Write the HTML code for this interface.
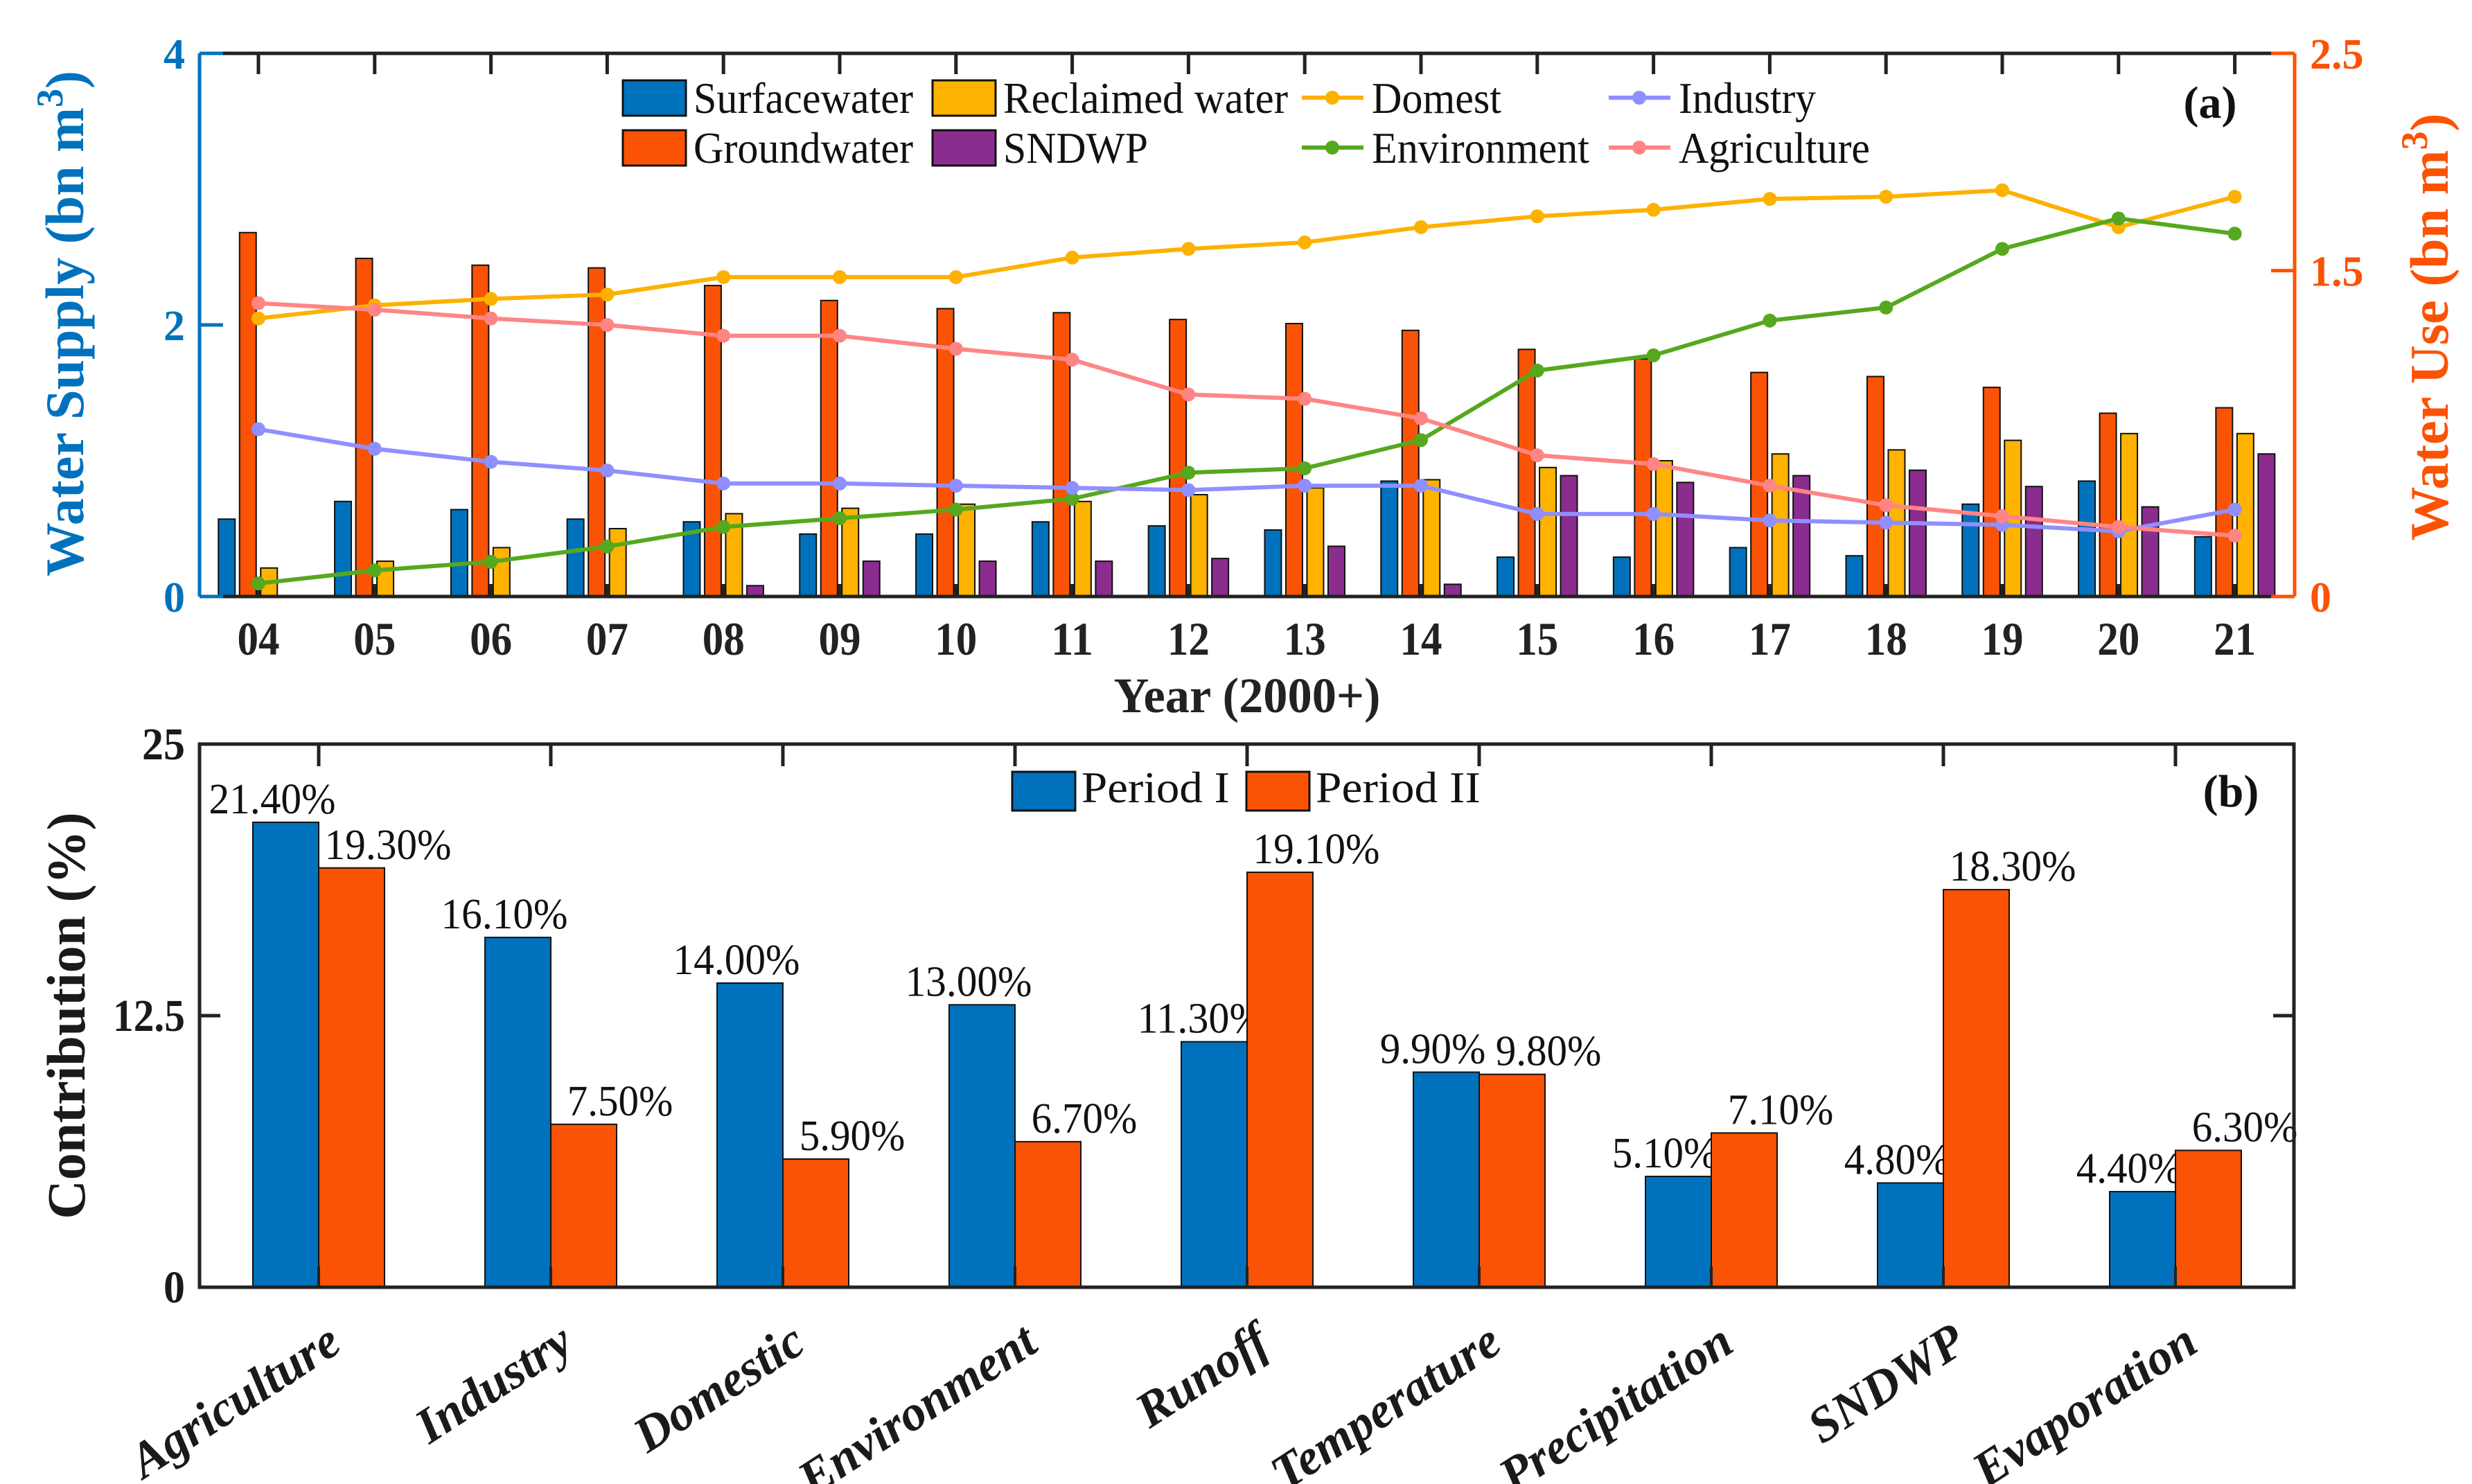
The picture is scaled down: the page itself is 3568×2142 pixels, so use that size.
<!DOCTYPE html>
<html><head><meta charset="utf-8">
<style>
html,body{margin:0;padding:0;background:#fff;}
svg{display:block;}
svg text{font-family:"Liberation Serif","DejaVu Serif","Times New Roman",serif !important;}
</style></head>
<body>
<svg id="chart" width="3568" height="2142" viewBox="0 0 3568 2142" xmlns="http://www.w3.org/2000/svg" font-family="'Liberation Serif', 'DejaVu Serif', serif">
<g id="pa"></g>
<g id="pb"></g>
</svg>
<script>
// ---- Panel (a) data ----
const years = ["04","05","06","07","08","09","10","11","12","13","14","15","16","17","18","19","20","21"];
const surfaceWater = [0.57,0.70,0.64,0.57,0.55,0.46,0.46,0.55,0.52,0.49,0.85,0.29,0.29,0.36,0.30,0.68,0.85,0.44];
const groundWater = [2.68,2.49,2.44,2.42,2.29,2.18,2.12,2.09,2.04,2.01,1.96,1.82,1.75,1.65,1.62,1.54,1.35,1.39];
const reclaimedWater = [0.21,0.26,0.36,0.50,0.61,0.65,0.68,0.70,0.75,0.80,0.86,0.95,1.00,1.05,1.08,1.15,1.20,1.20];
const sndwpSupply = [0,0,0,0,0.08,0.26,0.26,0.26,0.28,0.37,0.09,0.89,0.84,0.89,0.93,0.81,0.66,1.05];
const domestUse = [1.28,1.34,1.37,1.39,1.47,1.47,1.47,1.56,1.60,1.63,1.70,1.75,1.78,1.83,1.84,1.87,1.70,1.84];
const environmentUse = [0.06,0.12,0.16,0.23,0.32,0.36,0.40,0.45,0.57,0.59,0.72,1.04,1.11,1.27,1.33,1.60,1.74,1.67];
const industryUse = [0.77,0.68,0.62,0.58,0.52,0.52,0.51,0.50,0.49,0.51,0.51,0.38,0.38,0.35,0.34,0.33,0.30,0.40];
const agricultureUse = [1.35,1.32,1.28,1.25,1.20,1.20,1.14,1.09,0.93,0.91,0.82,0.65,0.61,0.51,0.42,0.37,0.32,0.28];
const leftTicks = [0,2,4];
const rightTicks = [0,1.5,2.5];
// ---- Panel (b) data ----
const factors = ["Agriculture","Industry","Domestic","Environment","Runoff","Temperature","Precipitation","SNDWP","Evaporation"];
const period1 = [21.4,16.1,14.0,13.0,11.3,9.9,5.1,4.8,4.4];
const period2 = [19.3,7.5,5.9,6.7,19.1,9.8,7.1,18.3,6.3];
const contribTicks = [0,12.5,25];
const contribTickLabels = ["0","12.5","25"];

const NS="http://www.w3.org/2000/svg";
const FF="'Liberation Serif', 'DejaVu Serif', serif";
function mk(parent,tag,attrs){const e=document.createElementNS(NS,tag);if(tag==='text')e.setAttribute('font-family',FF);for(const k in attrs)e.setAttribute(k,attrs[k]);parent.appendChild(e);return e;}

const C={blue:"#0072BD",orange:"#FA5305",yellow:"#FDB300",purple:"#8B2C8F",dom:"#FDB100",env:"#56A81E",ind:"#8F8FFF",agr:"#FF8585",axO:"#FC5204",dark:"#222"};

// ===== Panel A =====
const pa=document.getElementById('pa');
const A={x0:288,x1:3312,top:77,bot:861};
const xa=i=>373+i*167.8;
const yl=v=>A.bot-v*(A.bot-A.top)/4;
const yr=v=>A.bot-v*(A.bot-A.top)/2.5;
const barSeries=[[surfaceWater,C.blue,'surfacewater'],[groundWater,C.orange,'groundwater'],[reclaimedWater,C.yellow,'reclaimed-water'],[sndwpSupply,C.purple,'sndwp']];
barSeries.forEach((s,si)=>{
  s[0].forEach((v,i)=>{
    if(v<=0)return;
    const cx=xa(i)+(si-1.5)*30.5;
    const r=mk(pa,'rect',{x:cx-12,y:yl(v),width:24,height:A.bot-yl(v),fill:s[1],stroke:'#111','stroke-width':2});
    
    
  });
});
let e;
e=mk(pa,'line',{x1:321,y1:A.top,x2:3280,y2:A.top,stroke:C.dark,'stroke-width':5});

e=mk(pa,'line',{x1:321,y1:A.bot,x2:3280,y2:A.bot,stroke:C.dark,'stroke-width':5});

years.forEach((y,i)=>{
  const t=mk(pa,'line',{x1:xa(i),y1:A.top,x2:xa(i),y2:A.top+30,stroke:C.dark,'stroke-width':5});
  
  const b=mk(pa,'line',{x1:xa(i),y1:A.bot,x2:xa(i),y2:A.bot-18,stroke:C.dark,'stroke-width':5});
  
  const l=mk(pa,'text',{x:xa(i),y:945,'text-anchor':'middle','font-size':68,'font-weight':'bold',fill:C.dark,textLength:61,lengthAdjust:'spacingAndGlyphs'});
  l.textContent=y;
  
});
e=mk(pa,'line',{x1:A.x0,y1:A.top,x2:A.x0,y2:A.bot,stroke:C.blue,'stroke-width':5});

leftTicks.forEach(v=>{
  const t=mk(pa,'line',{x1:A.x0,y1:yl(v),x2:A.x0+34,y2:yl(v),stroke:C.blue,'stroke-width':5});
  
  const l=mk(pa,'text',{x:267,y:yl(v)+22,'text-anchor':'end','font-size':62,'font-weight':'bold',fill:C.blue});
  l.textContent=String(v);
  
});
e=mk(pa,'line',{x1:A.x1,y1:A.top,x2:A.x1,y2:A.bot,stroke:C.axO,'stroke-width':5});

rightTicks.forEach(v=>{
  const t=mk(pa,'line',{x1:A.x1,y1:yr(v),x2:A.x1-34,y2:yr(v),stroke:C.axO,'stroke-width':5});
  
  const l=mk(pa,'text',{x:3334,y:yr(v)+22,'text-anchor':'start','font-size':62,'font-weight':'bold',fill:C.axO});
  l.textContent=String(v);
  
});
const lineSeries=[[domestUse,C.dom,'domest'],[environmentUse,C.env,'environment'],[industryUse,C.ind,'industry'],[agricultureUse,C.agr,'agriculture']];
lineSeries.forEach(s=>{
  const pts=s[0].map((v,i)=>xa(i)+','+yr(v)).join(' ');
  const pl=mk(pa,'polyline',{points:pts,fill:'none',stroke:s[1],'stroke-width':6,'stroke-linejoin':'round'});
  
  
  s[0].forEach((v,i)=>{
    const c=mk(pa,'circle',{cx:xa(i),cy:yr(v),r:10,fill:s[1]});
    
    
  });
});
const legA=mk(pa,'g',{});

const boxEntries=[[899,116,C.blue,'Surfacewater',317],[899,188,C.orange,'Groundwater',317],[1346,116,C.yellow,'Reclaimed water',411],[1346,188,C.purple,'SNDWP',209]];
boxEntries.forEach(b=>{
  const g=mk(legA,'g',{});
  
  mk(g,'rect',{x:b[0],y:b[1],width:91,height:51,fill:b[2],stroke:'#111','stroke-width':3});
  const t=mk(g,'text',{x:b[0]+102,y:b[1]+47,'font-size':64,fill:'#111',textLength:b[4],lengthAdjust:'spacingAndGlyphs'});
  t.textContent=b[3];
});
const lineEntries=[[1879,141,C.dom,'Domest',187],[1879,213,C.env,'Environment',314],[2322,141,C.ind,'Industry',198],[2322,213,C.agr,'Agriculture',276]];
lineEntries.forEach(b=>{
  const g=mk(legA,'g',{});
  
  mk(g,'line',{x1:b[0],y1:b[1],x2:b[0]+89,y2:b[1],stroke:b[2],'stroke-width':6});
  mk(g,'circle',{cx:b[0]+44,cy:b[1],r:10,fill:b[2]});
  const t=mk(g,'text',{x:b[0]+101,y:b[1]+22,'font-size':64,fill:'#111',textLength:b[4],lengthAdjust:'spacingAndGlyphs'});
  t.textContent=b[3];
});
e=mk(pa,'text',{x:3190,y:170,'text-anchor':'middle','font-size':66,'font-weight':'bold',fill:'#111'});
e.textContent='(a)';
e=mk(pa,'text',{x:0,y:0,'text-anchor':'middle','font-size':78,'font-weight':'bold',fill:C.blue,transform:'translate(120,467) rotate(-90)'});
e.innerHTML='Water Supply (bn m<tspan dy="-30" font-size="54">3</tspan><tspan dy="30">)</tspan>';

e=mk(pa,'text',{x:0,y:0,'text-anchor':'middle','font-size':78,'font-weight':'bold',fill:C.axO,transform:'translate(3533,472) rotate(-90)'});
e.innerHTML='Water Use (bn m<tspan dy="-30" font-size="54">3</tspan><tspan dy="30">)</tspan>';

e=mk(pa,'text',{x:1800,y:1028,'text-anchor':'middle','font-size':72,'font-weight':'bold',fill:C.dark,textLength:385,lengthAdjust:'spacingAndGlyphs'});
e.textContent='Year (2000+)';

// ===== Panel B =====
const pb=document.getElementById('pb');
const B={x0:288,x1:3311,top:1074,bot:1858};
const xb=i=>460+i*335;
const yb=v=>B.bot-v*(B.bot-B.top)/25;
period1.forEach((v,i)=>{
  const r=mk(pb,'rect',{x:xb(i)-95,y:yb(v),width:95,height:B.bot-yb(v),fill:C.blue,stroke:'#111','stroke-width':2});
  
  
  const t=mk(pb,'text',{x:xb(i)-67,y:yb(v)-13,'text-anchor':'middle','font-size':62,fill:'#111',textLength:(v.toFixed(2).length+1)*30.5,lengthAdjust:'spacingAndGlyphs'});
  t.textContent=v.toFixed(2)+'%';
  
  
});
period2.forEach((v,i)=>{
  const r=mk(pb,'rect',{x:xb(i),y:yb(v),width:95,height:B.bot-yb(v),fill:C.orange,stroke:'#111','stroke-width':2});
  
  
  const t=mk(pb,'text',{x:xb(i)+100,y:yb(v)-13,'text-anchor':'middle','font-size':62,fill:'#111',textLength:(v.toFixed(2).length+1)*30.5,lengthAdjust:'spacingAndGlyphs'});
  t.textContent=v.toFixed(2)+'%';
  
  
});
e=mk(pb,'rect',{x:B.x0,y:B.top,width:B.x1-B.x0,height:B.bot-B.top,fill:'none',stroke:C.dark,'stroke-width':5});

factors.forEach((f,i)=>{
  const t=mk(pb,'line',{x1:xb(i),y1:B.top,x2:xb(i),y2:B.top+32,stroke:C.dark,'stroke-width':5});
  
  const b=mk(pb,'line',{x1:xb(i),y1:B.bot,x2:xb(i),y2:B.bot-30,stroke:C.dark,'stroke-width':4});
  
  const l=mk(pb,'text',{x:0,y:0,'text-anchor':'end','font-size':72,'font-weight':'bold','font-style':'italic',fill:'#1a1a1a',transform:'translate('+(xb(i)+36)+',1948) rotate(-33)'});
  l.textContent=f;
  
});
contribTicks.forEach((v,i)=>{
  const t=mk(pb,'line',{x1:B.x0,y1:yb(v),x2:B.x0+30,y2:yb(v),stroke:C.dark,'stroke-width':5});
  
  const t2=mk(pb,'line',{x1:B.x1,y1:yb(v),x2:B.x1-30,y2:yb(v),stroke:C.dark,'stroke-width':5});
  
  const l=mk(pb,'text',{x:267,y:yb(v)+22,'text-anchor':'end','font-size':66,'font-weight':'bold',fill:'#1a1a1a',textLength:contribTickLabels[i].length*(contribTickLabels[i].length>2?26:31),lengthAdjust:'spacingAndGlyphs'});
  l.textContent=contribTickLabels[i];
  
});
e=mk(pb,'text',{x:0,y:0,'text-anchor':'middle','font-size':78,'font-weight':'bold',fill:'#1a1a1a',transform:'translate(122,1466) rotate(-90)'});
e.textContent='Contribution (%)';
const legB=mk(pb,'g',{});

[[1461,C.blue,'Period I',214],[1799,C.orange,'Period II',238]].forEach(b=>{
  const g=mk(legB,'g',{});
  
  mk(g,'rect',{x:b[0],y:1114,width:91,height:56,fill:b[1],stroke:'#111','stroke-width':3});
  const t=mk(g,'text',{x:b[0]+100,y:1158,'font-size':64,fill:'#111',textLength:b[3],lengthAdjust:'spacingAndGlyphs'});
  t.textContent=b[2];
});
e=mk(pb,'text',{x:3220,y:1164,'text-anchor':'middle','font-size':66,'font-weight':'bold',fill:'#111'});
e.textContent='(b)';
</script>
</body></html>
